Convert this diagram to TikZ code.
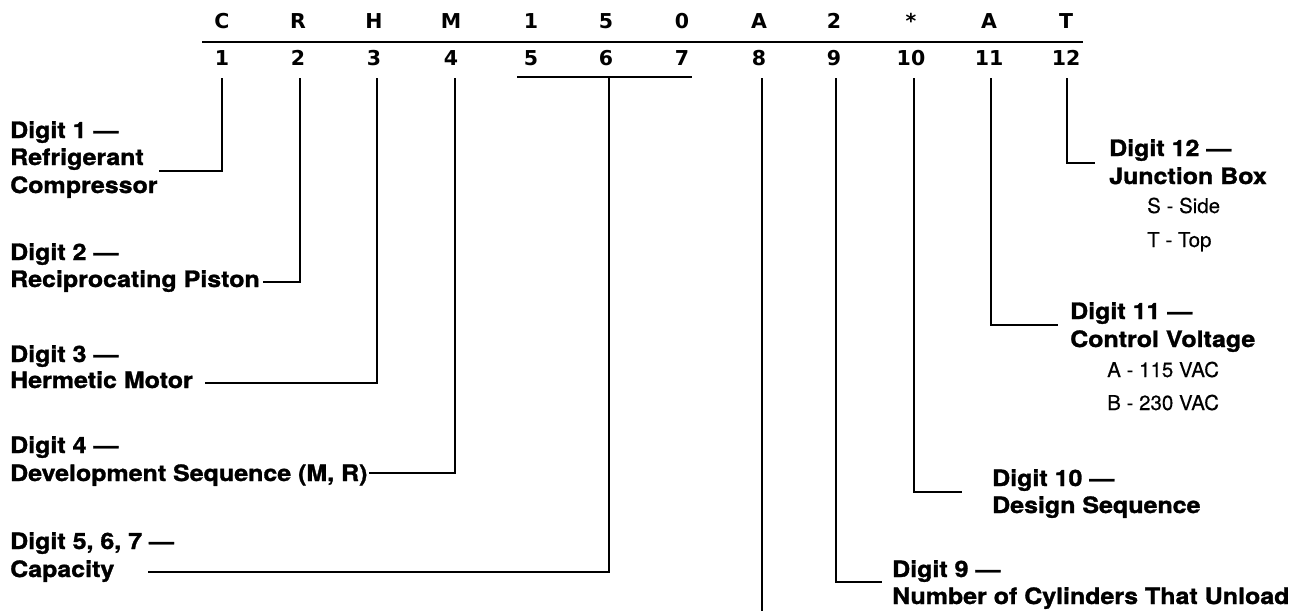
\documentclass[tikz,border=0pt]{standalone}
\usepackage{fontspec}
\setmainfont{TeX Gyre Heros}
\newfontfamily\lblfont{TeX Gyre Heros}[FakeStretch=1.11, FakeBold=1.3]
\newfontfamily\optfont{TeX Gyre Heros}[FakeBold=0.3]
\newfontfamily\hdrfont{DejaVu Sans}
\begin{document}
\begin{tikzpicture}[x=1pt,y=-1pt]
\tikzset{
  hdr/.style={font=\hdrfont\bfseries\fontsize{20.5}{24}\selectfont, anchor=base, inner sep=0pt},
  lbl/.style={font=\lblfont\bfseries\fontsize{22.5}{24}\selectfont, anchor=base west, inner sep=0pt},
  opt/.style={font=\optfont\fontsize{20.5}{24}\selectfont, anchor=base west, inner sep=0pt},
  lead/.style={line width=1.3pt, line join=miter},
  rulestyle/.style={line width=2pt}
}
\useasboundingbox (0,0) rectangle (1308,610);

% header
\foreach \x/\l/\d [count=\i] in {222/C/1, 298/R/2, 374/H/3, 451/M/4, 531/1/5, 606/5/6, 682/0/7, 759/A/8, 834/2/9, 911/*/10, 989/A/11, 1066/T/12}{
  \node[hdr] (c\i) at (\x,29) {\l};
  \node[hdr] (n\i) at (\x,66) {\d};
}
\coordinate (ruleL) at (202,42);
\coordinate (ruleR) at (1083,42);
\draw[rulestyle] (ruleL) -- (ruleR);

% tick tops
\coordinate (t1) at (222,78);
\coordinate (t2) at (300,78);
\coordinate (t3) at (377,78);
\coordinate (t4) at (455,78);
\coordinate (bl) at (517,77);
\coordinate (br) at (692,77);
\coordinate (t567) at (609,77);
\coordinate (t8) at (762,78);
\coordinate (t9) at (836,78);
\coordinate (t10) at (914,78);
\coordinate (t11) at (991,78);
\coordinate (t12) at (1067,78);

% labels left
\node[lbl] (d1a) at (10,138) {Digit 1 —};
\node[lbl] (d1b) at (10,165) {Refrigerant};
\node[lbl] (d1c) at (10,193) {Compressor};
\node[lbl] (d2a) at (10,260) {Digit 2 —};
\node[lbl] (d2b) at (10,287) {Reciprocating Piston};
\node[lbl] (d3a) at (10,362) {Digit 3 —};
\node[lbl] (d3b) at (10,388) {Hermetic Motor};
\node[lbl] (d4a) at (10,453) {Digit 4 —};
\node[lbl] (d4b) at (10,481) {Development Sequence (M, R)};
\node[lbl] (d5a) at (10,549) {Digit 5, 6, 7 —};
\node[lbl] (d5b) at (10,577) {Capacity};

% labels right
\node[lbl] (d12a) at (1109,156) {Digit 12 —};
\node[lbl] (d12b) at (1109,184) {Junction Box};
\node[opt] (d12s) at (1147,213) {S - Side};
\node[opt] (d12t) at (1147,247) {T - Top};
\node[lbl] (d11a) at (1070,319) {Digit 11 —};
\node[lbl] (d11b) at (1070,347) {Control Voltage};
\node[opt] (d11s) at (1107,377) {A - 115 VAC};
\node[opt] (d11t) at (1107,410) {B - 230 VAC};
\node[lbl] (d10a) at (992,486) {Digit 10 —};
\node[lbl] (d10b) at (992,513) {Design Sequence};
\node[lbl] (d9a) at (892,577) {Digit 9 —};
\node[lbl] (d9b) at (892,604) {Number of Cylinders That Unload};

% leader ends
\coordinate (e1) at (159,171);
\coordinate (e2) at (263,282);
\coordinate (e3) at (205,383);
\coordinate (e4) at (369,473);
\coordinate (e567) at (148,572);
\coordinate (e8) at (762,612);
\coordinate (e9) at (882,582);
\coordinate (e10) at (962,492);
\coordinate (e11) at (1058,325);
\coordinate (e12) at (1095,163);

% leaders
\draw[lead] (t1) |- (e1);
\draw[lead] (t2) |- (e2);
\draw[lead] (t3) |- (e3);
\draw[lead] (t4) |- (e4);
\draw[lead] (bl) -- (br);
\draw[lead] (t567) |- (e567);
\draw[lead] (t8) -- (e8);
\draw[lead] (t9) |- (e9);
\draw[lead] (t10) |- (e10);
\draw[lead] (t11) |- (e11);
\draw[lead] (t12) |- (e12);
\end{tikzpicture}
\end{document}
